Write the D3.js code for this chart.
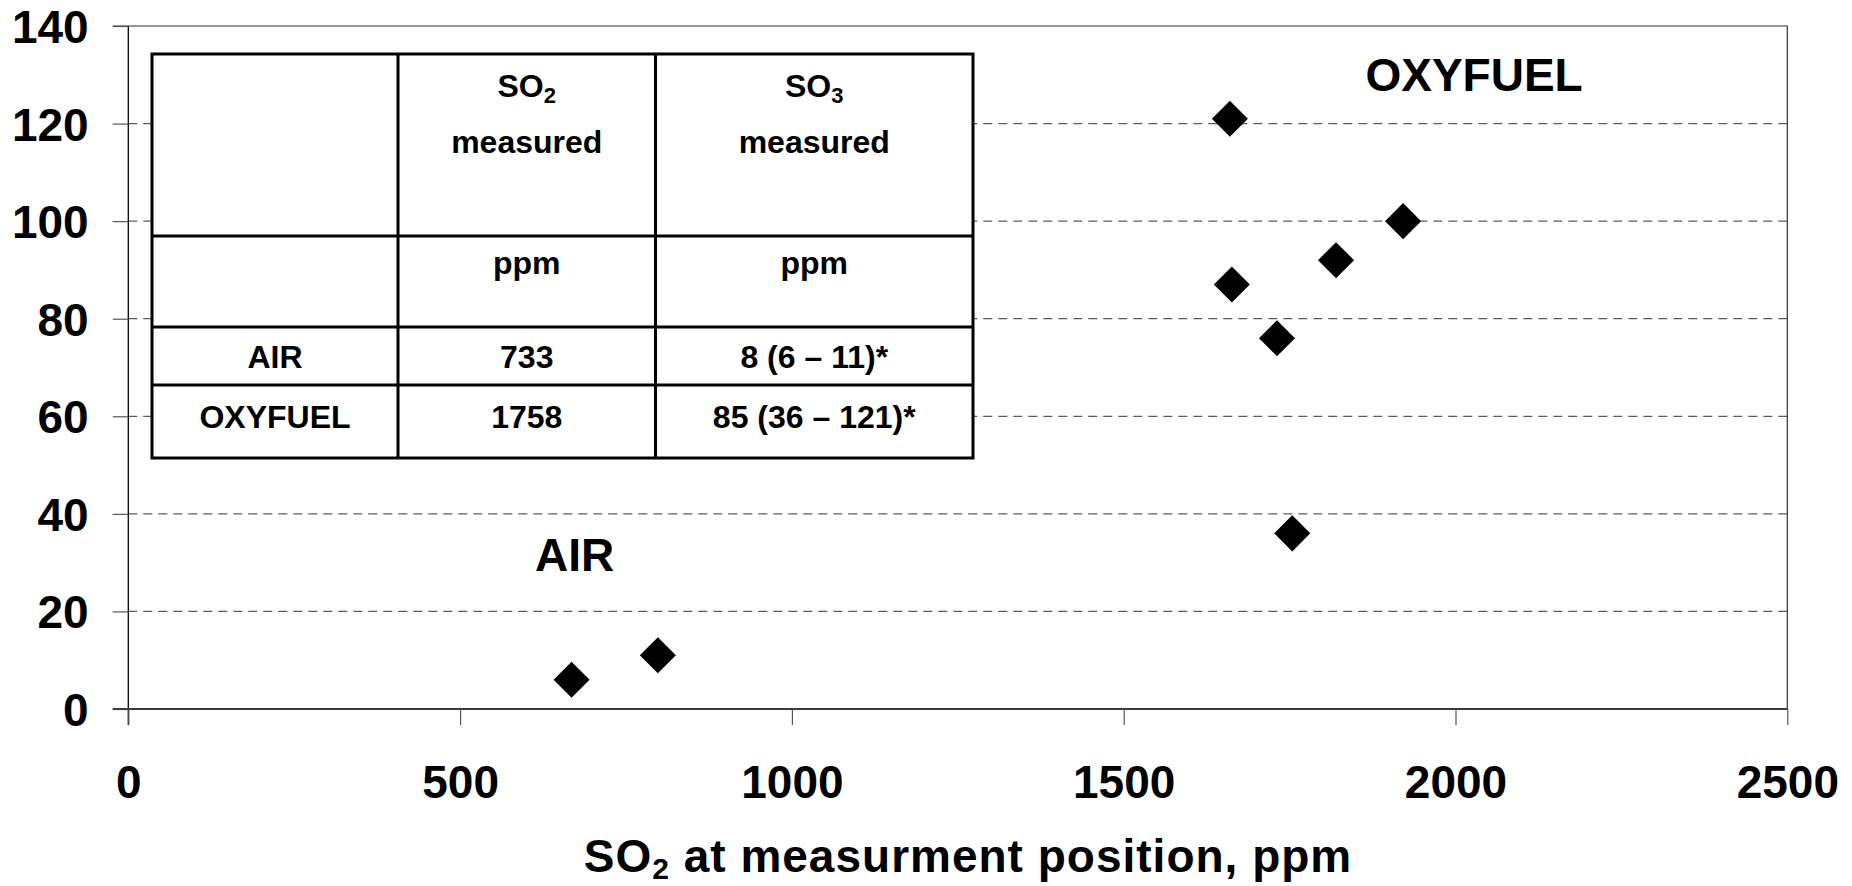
<!DOCTYPE html>
<html>
<head>
<meta charset="utf-8">
<script src="https://cdn.jsdelivr.net/npm/d3@7"></script>
<style>
  body { margin: 0; background: white; }
  svg { display: block; font-family: "Liberation Sans", Arial, sans-serif; font-weight: bold; }
</style>
</head>
<body>
<svg id="plot"></svg>
<script>
// chart values
airX = [668, 798];
airY = [6, 11];
oxyX = [1660, 1921, 1820, 1663, 1731, 1754];
oxyY = [121, 100, 92, 87, 76, 36];
xTicks = [0, 500, 1000, 1500, 2000, 2500];
yTicks = [0, 20, 40, 60, 80, 100, 120, 140];

// inset table
tableCases = ["AIR", "OXYFUEL"];
so2Measured = ["733", "1758"];
so3Measured = ["8 (6 \u2013 11)*", "85 (36 \u2013 121)*"];
unitsRow = ["", "ppm", "ppm"];

svgWidth = 1852;
svgHeight = 886;
margin = {top: 26, right: 64.7, bottom: 177, left: 128.3};

function makeChart() {
    const svg = d3.select("#plot")
        .attr("width", svgWidth)
        .attr("height", svgHeight);

    x = d3.scaleLinear()
        .domain([0, 2500])
        .range([margin.left, svgWidth - margin.right]);

    y = d3.scaleLinear()
        .domain([0, 140])
        .range([svgHeight - margin.bottom, margin.top]);

    // dashed gridlines
    svg.append("g")
        .selectAll("line")
        .data(yTicks.filter(d => d > 0 && d < 140))
        .join("line")
        .attr("x1", x(0))
        .attr("x2", x(2500))
        .attr("y1", d => y(d))
        .attr("y2", d => y(d))
        .attr("stroke", "#5c5c5c")
        .attr("stroke-width", 1.3)
        .attr("stroke-dasharray", "9,6");

    // top and right border of plot area
    svg.append("path")
        .attr("fill", "none")
        .attr("stroke", "#333")
        .attr("stroke-width", 1.2)
        .attr("d", `M${x(0) - 15.6},${y(140)}H${x(2500)}V${y(0)}`);

    const yAxis = svg.append("g")
        .attr("transform", `translate(${x(0)},0)`)
        .call(d3.axisLeft(y).tickValues(yTicks).tickSize(15.6).tickPadding(24));
    yAxis.select(".domain").attr("stroke", "#000").attr("stroke-width", 1.3)
        .attr("d", `M0,${y(140)}V${y(0) + 16}`);
    yAxis.selectAll(".tick line").attr("stroke", "#555").attr("stroke-width", 1.2);
    yAxis.selectAll(".tick text")
        .attr("font-size", 46)
        .attr("font-weight", "bold")
        .attr("font-family", "Liberation Sans, Arial, sans-serif")
        .attr("fill", "#000")
        .attr("dy", "0.36em");

    const xAxis = svg.append("g")
        .attr("transform", `translate(0,${y(0)})`)
        .call(d3.axisBottom(x).tickValues(xTicks).tickFormat(d3.format("d"))
            .tickSize(16).tickPadding(40));
    xAxis.select(".domain").attr("stroke", "#3a3a3a").attr("stroke-width", 2.2)
        .attr("d", `M${x(0) - 15.6},0H${x(2500)}`);
    xAxis.selectAll(".tick line").attr("stroke", "#555").attr("stroke-width", 1.2);
    xAxis.selectAll(".tick text")
        .attr("font-size", 46)
        .attr("font-weight", "bold")
        .attr("font-family", "Liberation Sans, Arial, sans-serif")
        .attr("fill", "#000");

    // x axis title
    const title = svg.append("text")
        .attr("x", 968)
        .attr("y", 872)
        .attr("text-anchor", "middle")
        .attr("font-size", 46)
        .attr("letter-spacing", 1)
        .attr("fill", "#000");
    title.append("tspan").text("SO");
    title.append("tspan").text("2").attr("font-size", 30).attr("dy", 7);
    title.append("tspan").text(" at measurment position, ppm").attr("dy", -7);

    // inset table
    const cols = [152, 398, 655.5, 973];
    const rows = [54, 236, 327, 385, 458];
    const tbl = svg.append("g");

    tbl.append("rect")
        .attr("x", cols[0]).attr("y", rows[0])
        .attr("width", cols[3] - cols[0]).attr("height", rows[4] - rows[0])
        .attr("fill", "white").attr("stroke", "#000").attr("stroke-width", 3);

    tbl.selectAll(".vline")
        .data(cols.slice(1, 3))
        .join("line")
        .attr("x1", d => d).attr("x2", d => d)
        .attr("y1", rows[0]).attr("y2", rows[4])
        .attr("stroke", "#000").attr("stroke-width", 3);

    tbl.selectAll(".hline")
        .data(rows.slice(1, 4))
        .join("line")
        .attr("x1", cols[0]).attr("x2", cols[3])
        .attr("y1", d => d).attr("y2", d => d)
        .attr("stroke", "#000").attr("stroke-width", 3);

    const colMid = i => (cols[i] + cols[i + 1]) / 2;
    const fs = 32;

    // header row: SO2 / SO3 measured
    ["2", "3"].forEach((sub, i) => {
        const t = tbl.append("text")
            .attr("x", colMid(i + 1)).attr("y", 97)
            .attr("text-anchor", "middle").attr("font-size", fs);
        t.append("tspan").text("SO");
        t.append("tspan").text(sub).attr("font-size", 22).attr("dy", 6);
        tbl.append("text")
            .attr("x", colMid(i + 1)).attr("y", 153)
            .attr("text-anchor", "middle").attr("font-size", fs)
            .text("measured");
    });

    tbl.selectAll(".unit")
        .data(unitsRow)
        .join("text")
        .attr("x", (d, i) => colMid(i)).attr("y", 274)
        .attr("text-anchor", "middle").attr("font-size", fs)
        .text(d => d);

    const bodyBase = [368, 428];
    tableCases.forEach((c, r) => {
        [c, so2Measured[r], so3Measured[r]].forEach((v, i) => {
            tbl.append("text")
                .attr("x", colMid(i)).attr("y", bodyBase[r])
                .attr("text-anchor", "middle").attr("font-size", fs)
                .text(v);
        });
    });

    // points
    const diamond = d3.symbol().type(d3.symbolSquare).size(650);
    const pts = airX.map((d, i) => [d, airY[i]])
        .concat(oxyX.map((d, i) => [d, oxyY[i]]));
    svg.append("g")
        .selectAll("path")
        .data(pts)
        .join("path")
        .attr("d", diamond)
        .attr("fill", "#000")
        .attr("transform", d => `translate(${x(d[0])},${y(d[1])}) rotate(45)`);

    // case labels
    svg.append("text")
        .attr("x", x(2028)).attr("y", y(126.7))
        .attr("text-anchor", "middle").attr("font-size", 46)
        .text("OXYFUEL");
    svg.append("text")
        .attr("x", x(613)).attr("y", y(28.3))
        .attr("font-size", 46)
        .text("AIR");
}

makeChart();
</script>
</body>
</html>
